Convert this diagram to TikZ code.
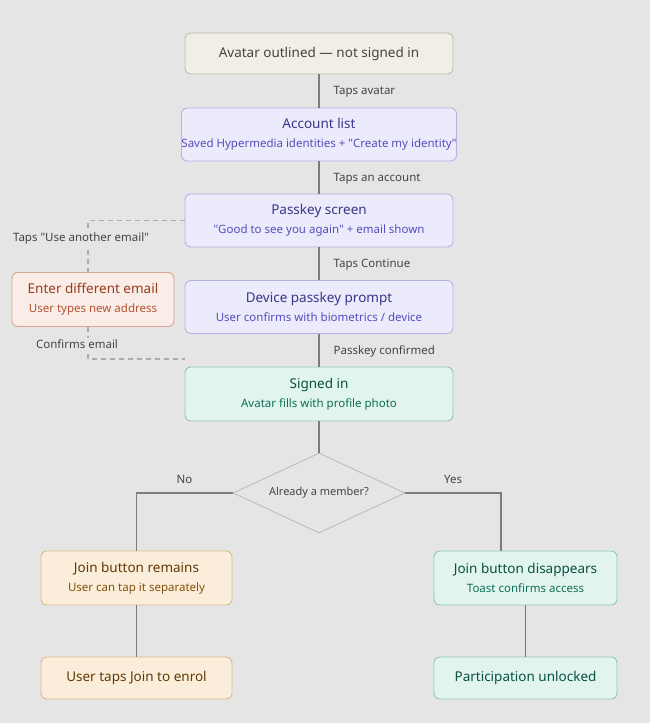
\documentclass[tikz,border=0pt]{standalone}
\usepackage{fontspec}
\setmainfont{Noto Sans}
\usepackage{tikz}
\usetikzlibrary{shapes.geometric, positioning, calc}
\usepackage{xcolor}
\definecolor{canvas}{RGB}{229, 229, 229}
\definecolor{wire}{RGB}{125, 124, 118}
\definecolor{softwire}{RGB}{172, 172, 170}
\definecolor{neutralfill}{RGB}{240, 238, 230}
\definecolor{neutraldraw}{RGB}{190, 188, 180}
\definecolor{neutraltext}{RGB}{68, 68, 65}
\definecolor{idfill}{RGB}{236, 235, 251}
\definecolor{iddraw}{RGB}{181, 178, 228}
\definecolor{idtitle}{RGB}{60, 52, 137}
\definecolor{idsub}{RGB}{88, 76, 190}
\definecolor{altfill}{RGB}{250, 236, 231}
\definecolor{altdraw}{RGB}{216, 164, 146}
\definecolor{alttitle}{RGB}{153, 60, 29}
\definecolor{altsub}{RGB}{181, 84, 50}
\definecolor{donefill}{RGB}{225, 245, 238}
\definecolor{donedraw}{RGB}{145, 200, 180}
\definecolor{donetitle}{RGB}{8, 80, 65}
\definecolor{donesub}{RGB}{15, 110, 86}
\definecolor{waitfill}{RGB}{250, 238, 218}
\definecolor{waitdraw}{RGB}{218, 188, 140}
\definecolor{waittitle}{RGB}{99, 56, 6}
\definecolor{waitsub}{RGB}{133, 79, 11}
\newcommand{\subline}[1]{\\[3pt]{\fontsize{11.5}{14}\selectfont #1}}
\tikzset{
    stepbox/.style={rectangle, rounded corners=6pt, align=center, line width=0.9pt, font=\fontsize{13.5}{16}\selectfont, inner sep=0pt},
    neutral/.style={stepbox, draw=neutraldraw, fill=neutralfill, text=neutraltext, minimum width=268pt, minimum height=41pt},
    idstep/.style={stepbox, draw=iddraw, fill=idfill, text=idtitle, minimum width=268pt, minimum height=53pt},
    altstep/.style={stepbox, draw=altdraw, fill=altfill, text=alttitle, minimum width=162pt, minimum height=54pt},
    donestep/.style={stepbox, draw=donedraw, fill=donefill, text=donetitle, minimum height=54pt},
    waitstep/.style={stepbox, draw=waitdraw, fill=waitfill, text=waittitle, minimum height=54pt},
    decision/.style={diamond, aspect=2.15, draw=softwire!85, fill=canvas, line width=0.8pt, text=neutraltext, font=\fontsize{11}{13}\selectfont, minimum width=172pt, minimum height=80pt, inner sep=0pt},
    wireline/.style={line width=1.3pt, wire},
    dashedline/.style={line width=1.2pt, softwire, dashed, dash pattern=on 5pt off 4pt},
    edgelabel/.style={font=\fontsize{11.5}{14}\selectfont, text=neutraltext, inner sep=0pt}
}
\begin{document}
\begin{tikzpicture}[x=1pt, y=-1pt]
    \fill[canvas] (0,0) rectangle (650,723);
    \useasboundingbox (0,0) rectangle (650,723);

    % Sign-in chain
    \node[neutral] (outlined) at (319, 53.5) {Avatar outlined --- not signed in};
    \node[idstep] (accounts) at (319, 134.5) {Account list\subline{\color{idsub}Saved Hypermedia identities + \textquotedbl Create my identity\textquotedbl}};
    \node[idstep] (passkey) at (319, 220.5) {Passkey screen\subline{\color{idsub}\textquotedbl Good to see you again\textquotedbl{} + email shown}};
    \node[idstep] (prompt) at (319, 307) {Device passkey prompt\subline{\color{idsub}User confirms with biometrics / device}};
    \node[donestep, minimum width=268pt] (signed) at (319, 394) {Signed in\subline{\color{donesub}Avatar fills with profile photo}};

    % Other email
    \node[altstep] (otheremail) at (93, 299.5) {Enter different email\subline{\color{altsub}User types new address}};
    \coordinate (rejoin) at (185, 359);

    % Membership check
    \node[decision] (member) at (319, 493) {Already a member?};
    \node[waitstep, minimum width=191pt] (remains) at (136.5, 578) {Join button remains\subline{\color{waitsub}User can tap it separately}};
    \node[waitstep, minimum width=191pt, minimum height=42pt] (enrol) at (136.5, 678) {User taps Join to enrol};
    \node[donestep, minimum width=183pt] (vanishes) at (525.5, 578) {Join button disappears\subline{\color{donesub}Toast confirms access}};
    \node[donestep, minimum width=183pt, minimum height=42pt] (unlocked) at (525.5, 678) {Participation unlocked};

    % Connectors
    \draw[wireline] (outlined) -- (accounts) node[edgelabel, midway, right=14pt, yshift=-1pt] {Taps avatar};
    \draw[wireline] (accounts) -- (passkey) node[edgelabel, midway, right=14pt, yshift=-1pt] {Taps an account};
    \draw[wireline] (passkey) -- (prompt) node[edgelabel, midway, right=14pt, yshift=-1pt] {Taps Continue};
    \draw[wireline] (prompt) -- (signed) node[edgelabel, midway, right=14pt, yshift=-1pt] {Passkey confirmed};
    \draw[wireline] (signed) -- (member);
    \draw[wireline] (member.west) -| (remains.north) node[edgelabel, pos=0.25, above=9pt] {No};
    \draw[wireline] (member.east) -| ($(vanishes.north)+(-24.5,0)$) node[edgelabel, pos=0.25, above=9pt] {Yes};
    \draw[wireline] (remains) -- (enrol);
    \draw[wireline] (vanishes) -- (unlocked);

    % Dashed detour
    \draw[dashedline] (passkey.west) -| ($(otheremail.north)+(-5,0)$) node[edgelabel, pos=0.67, xshift=-7pt, fill=canvas, inner sep=2pt] {Taps \textquotedbl Use another email\textquotedbl};
    \draw[dashedline] ($(otheremail.south)+(-5,0)$) |- (rejoin) node[edgelabel, pos=0.27, xshift=-11pt, fill=canvas, inner sep=2pt] {Confirms email};
\end{tikzpicture}
\end{document}
